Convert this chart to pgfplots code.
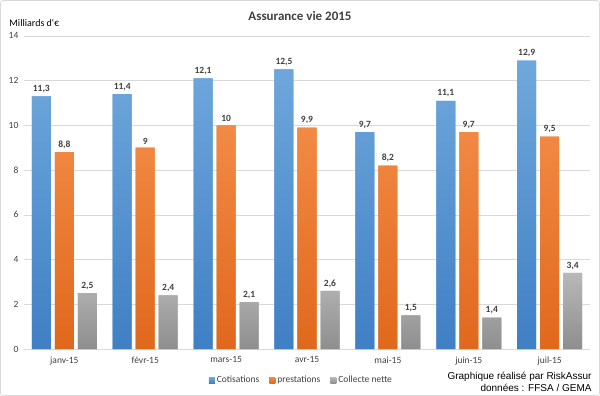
\documentclass[border=0pt]{standalone}
\usepackage{pgfplots}
\pgfplotsset{compat=1.18}
\usepackage{fontspec}
\setmainfont{Carlito}
\newfontfamily\carlitoplain{Carlito}[Ligatures=TeXOff]
\newfontfamily\arialf{Liberation Sans}
\definecolor{cblue}{HTML}{5B9BD5}
\definecolor{cblueD}{HTML}{3F7FC4}
\definecolor{cblueL}{HTML}{6FA8DC}
\definecolor{corange}{HTML}{ED7D31}
\definecolor{corangeD}{HTML}{E0681C}
\definecolor{corangeL}{HTML}{F28A45}
\definecolor{cgray}{HTML}{A5A5A5}
\definecolor{cgrayD}{HTML}{8E8E8E}
\definecolor{cgrayL}{HTML}{B8B8B8}
\definecolor{txt}{HTML}{404040}
\definecolor{gridc}{HTML}{D9D9D9}
\begin{document}
\begin{tikzpicture}[x=1pt,y=1pt]
\draw[draw=gridc, line width=0.8pt, rounded corners=3pt] (0.5,0.5) rectangle (599.5,395.5);
\node[font=\fontsize{13}{15}\selectfont\bfseries, text=txt] at (300,380) {Assurance vie 2015};
\node[font=\carlitoplain\fontsize{10}{12}\selectfont, text=black, anchor=west] at (6,373) {Milliards d'€};
\node[font=\arialf\fontsize{10}{12}\selectfont, text=black, anchor=east, align=right] at (595,14) {Graphique réalisé par RiskAssur\\données : FFSA / GEMA};
\begin{axis}[
  at={(24pt,47pt)}, anchor=south west,
  scale only axis, width=566pt, height=313pt,
  ybar=4pt, bar width=19pt,
  xmin=-0.5, xmax=6.5, ymin=0, ymax=14,
  xtick={0,...,6},
  xticklabels={janv-15,févr-15,mars-15,avr-15,mai-15,juin-15,juil-15},
  ytick={0,2,...,14},
  axis x line*=bottom, axis y line*=left,
  y axis line style={draw=none},
  ymajorgrids, grid style={draw=gridc, line width=0.6pt},
  x axis line style={draw=gridc, line width=0.8pt, -},
  major x tick style={draw=none},
  ytick style={draw=none},
  ticklabel style={font=\fontsize{9.5}{11}\selectfont, text=txt},
  /pgf/number format/assume math mode=true,
  yticklabel style={xshift=-2pt},
  clip=false,
  nodes near coords,
  nodes near coords style={font=\fontsize{9.5}{11}\selectfont\bfseries, text=txt, /pgf/number format/.cd, fixed, precision=1, use comma, assume math mode=true},
  legend style={at={(0.49,-0.1)}, anchor=center, legend columns=3, draw=none, font=\fontsize{9.5}{11}\selectfont, text=txt, /tikz/every even column/.append style={column sep=8pt}},
  legend image code/.code={\fill[#1] (0pt,-3pt) rectangle (6pt,3pt);},
]
\addplot[draw=none, top color=cblueL, bottom color=cblueD, fill=cblue] coordinates {(0,11.3) (1,11.4) (2,12.1) (3,12.5) (4,9.7) (5,11.1) (6,12.9)};
\addplot[draw=none, top color=corangeL, bottom color=corangeD, fill=corange] coordinates {(0,8.8) (1,9) (2,10) (3,9.9) (4,8.2) (5,9.7) (6,9.5)};
\addplot[draw=none, top color=cgrayL, bottom color=cgrayD, fill=cgray] coordinates {(0,2.5) (1,2.4) (2,2.1) (3,2.6) (4,1.5) (5,1.4) (6,3.4)};
\legend{Cotisations, prestations, Collecte nette}
\end{axis}
\end{tikzpicture}
\end{document}
